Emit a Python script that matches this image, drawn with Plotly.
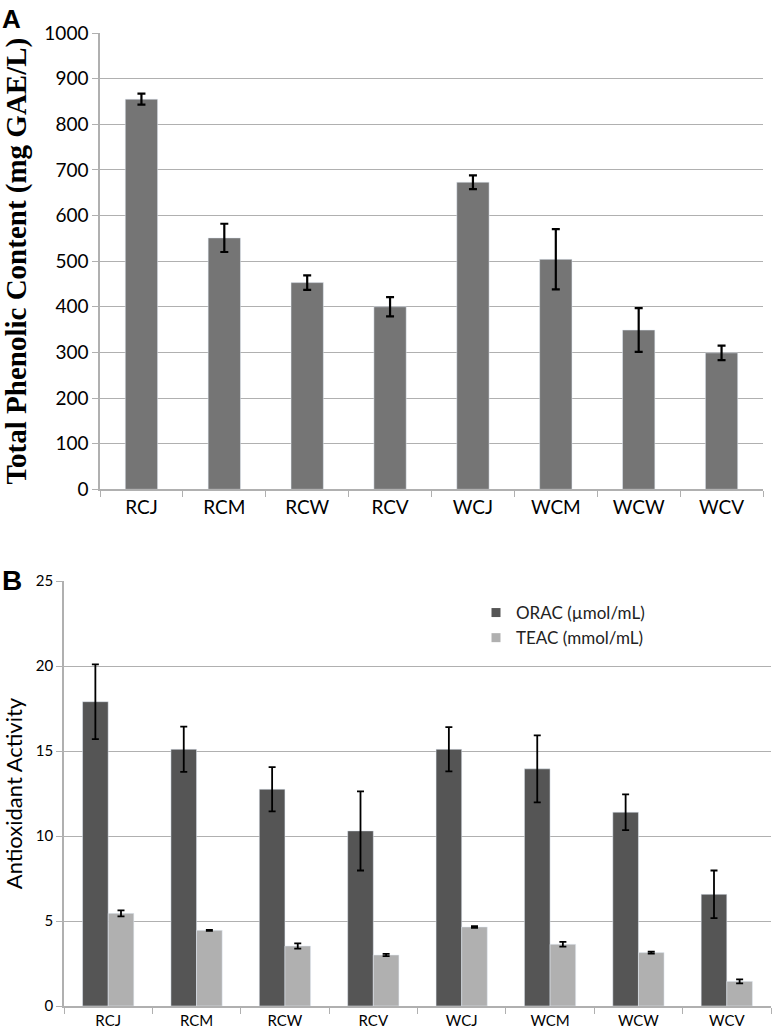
import plotly.graph_objects as go
from plotly.subplots import make_subplots

W, H = 774, 1033

samples = ["RCJ", "RCM", "RCW", "RCV", "WCJ", "WCM", "WCW", "WCV"]

# Panel A - total phenolic content (mg GAE/L)
tpc = [855, 551, 453, 400, 673, 504, 349, 299]
tpc_err = [12, 31, 16, 21, 15, 66, 48, 16]

# Panel B - antioxidant activity
orac = [17.9, 15.1, 12.75, 10.3, 15.1, 13.95, 11.4, 6.57]
orac_err = [2.2, 1.33, 1.3, 2.33, 1.3, 1.97, 1.05, 1.4]
teac = [5.45, 4.45, 3.53, 3.0, 4.65, 3.63, 3.14, 1.45]
teac_err = [0.18, 0.03, 0.15, 0.07, 0.05, 0.14, 0.06, 0.12]

tick_font = "Lato, Open Sans, sans-serif"
grid = "#b0b0b0"
c_a = "#757575"
c_orac = "#555555"
c_teac = "#b0b0b0"

fig = make_subplots(rows=2, cols=1)

fig.add_trace(go.Bar(x=samples, y=tpc, marker_color=c_a, showlegend=False, width=0.39,
    error_y=dict(type="data", array=tpc_err, color="black", thickness=2.2, width=4)),
    row=1, col=1)

fig.add_trace(go.Bar(x=samples, y=orac, name="ORAC (µmol/mL)", marker_color=c_orac, showlegend=False,
    error_y=dict(type="data", array=orac_err, color="black", thickness=1.8, width=3.5)),
    row=2, col=1)
fig.add_trace(go.Bar(x=samples, y=teac, name="TEAC (mmol/mL)", marker_color=c_teac, showlegend=False,
    error_y=dict(type="data", array=teac_err, color="black", thickness=1.8, width=3.5)),
    row=2, col=1)

# square legend keys, like the Excel original
for nm, col in [("ORAC (µmol/mL)", c_orac), ("TEAC (mmol/mL)", c_teac)]:
    fig.add_trace(go.Scatter(x=[None], y=[None], mode="markers", name=nm,
        marker=dict(symbol="square", size=9, color=col)), row=2, col=1)

fig.update_layout(
    width=W, height=H,
    margin=dict(l=0, r=0, t=0, b=0),
    plot_bgcolor="white", paper_bgcolor="white",
    barmode="group", bargap=0.42, bargroupgap=0,
    legend=dict(x=476/W, y=1-595/H, xanchor="left", yanchor="top",
                font=dict(family=tick_font, size=17, color="#222"),
                itemwidth=30, tracegroupgap=0, bgcolor="rgba(0,0,0,0)"),
    xaxis=dict(domain=[100/W, 763/W]),
    yaxis=dict(domain=[1-489.3/H, 1-33/H]),
    xaxis2=dict(domain=[64/W, 771/W]),
    yaxis2=dict(domain=[1-1006/H, 1-581/H]),
)

fig.update_xaxes(showline=True, linecolor=grid, linewidth=1.5, ticks="outside", automargin=False,
                 tickson="boundaries", ticklen=6, tickcolor=grid, showgrid=False)
fig.update_yaxes(showline=True, linecolor=grid, linewidth=1.5, ticks="outside", automargin=False,
                 ticklen=6, tickcolor=grid, gridcolor=grid, gridwidth=1.2, zeroline=False)

fig.update_xaxes(tickfont=dict(family=tick_font, size=19, color="black"), row=1, col=1)
fig.update_yaxes(range=[0, 1000], dtick=100,
                 tickfont=dict(family=tick_font, size=19, color="black"),
                 title=dict(text="<b>Total Phenolic Content (mg GAE/L)</b>", standoff=10,
                            font=dict(family="Liberation Serif, Times New Roman, serif",
                                      size=29, color="black")),
                 row=1, col=1)

fig.update_xaxes(tickfont=dict(family=tick_font, size=15, color="black"), row=2, col=1)
fig.update_yaxes(range=[0, 25], dtick=5,
                 tickfont=dict(family=tick_font, size=15, color="black"),
                 title=dict(text="Antioxidant Activity", standoff=12,
                            font=dict(family=tick_font, size=22, color="black")),
                 row=2, col=1)

fig.add_annotation(text="<b>A</b>", x=0, y=1-2/H, xref="paper", yref="paper",
                   xanchor="left", yanchor="top", showarrow=False,
                   font=dict(family="Liberation Sans, Arial, sans-serif", size=26, color="black"))
fig.add_annotation(text="<b>B</b>", x=0, y=1-563/H, xref="paper", yref="paper",
                   xanchor="left", yanchor="top", showarrow=False,
                   font=dict(family="Liberation Sans, Arial, sans-serif", size=28, color="black"))

# drop the browser's default 8px body margin so the figure fills the window
fig.write_html("out.html", config={"displayModeBar": False},
               post_script="document.body.style.margin='0';")
